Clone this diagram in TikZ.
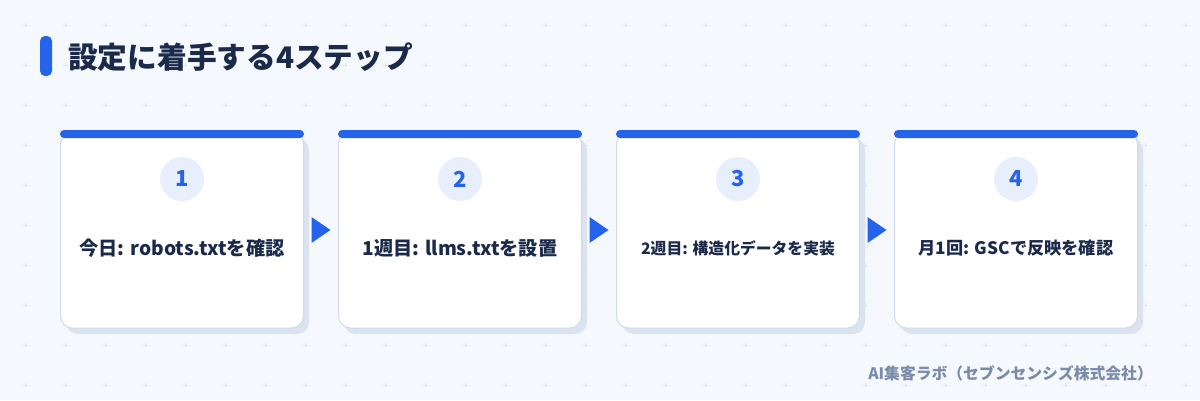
\documentclass[tikz,border=0pt]{standalone}
\usepackage{fontspec}
\setmainfont{Noto Sans CJK JP}
\usetikzlibrary{calc}
\definecolor{bgc}{HTML}{F5F8FC}
\definecolor{gridc}{HTML}{E0E7F1}
\definecolor{bluec}{HTML}{2563EB}
\definecolor{darkc}{HTML}{1B2A4A}
\definecolor{grayc}{HTML}{7B8BA8}
\definecolor{borderc}{HTML}{CFDBEA}
\definecolor{shadowc}{HTML}{DAE3EF}
\definecolor{circc}{HTML}{E7EFFC}
\tikzset{
  cardbox/.style={draw=borderc, line width=1pt, fill=white, rounded corners=12pt,
    minimum width=243pt, minimum height=196pt, inner sep=0pt},
  cardshadow/.style={fill=shadowc, rounded corners=12pt,
    minimum width=243pt, minimum height=196pt, inner sep=0pt},
  topbar/.style={fill=bluec, rounded corners=4pt, minimum width=244pt, minimum height=8pt, inner sep=0pt},
  numcirc/.style={circle, fill=circc, minimum size=44pt, inner sep=0pt,
    text=bluec, font=\fontsize{22pt}{24pt}\selectfont\bfseries},
  steplabel/.style={text=darkc, inner sep=0pt},
  arrowtri/.style={fill=bluec},
}
\begin{document}
\begin{tikzpicture}[x=1pt,y=-1pt]
\useasboundingbox (0,0) rectangle (1200,400);
\fill[bgc] (0,0) rectangle (1200,400);
\foreach \i in {0,...,29}{
  \foreach \j in {0,...,9}{
    \draw[gridc, line width=0.7pt] ({25+40*\i-2.5},{25+40*\j}) -- ++(5,0)
      ({25+40*\i},{25+40*\j-2.5}) -- ++(0,5);
  }
}
% title
\fill[bluec, rounded corners=5pt] (40,36) rectangle (52,76);
\node[anchor=west, text=darkc, font=\fontsize{29.7pt}{32pt}\selectfont\bfseries, inner sep=0pt] (title) at (68,57) {設定に着手する4ステップ};
% cards
\foreach \n/\cx/\lbl/\fs in {1/182/{今日: robots.txtを確認}/19.2, 2/460/{1週目: llms.txtを設置}/19.2, 3/738/{2週目: 構造化データを実装}/15.8, 4/1016/{月1回: GSCで反映を確認}/17.2}{
  \node[cardshadow] (s\n) at (\cx+5.5,236) {};
  \node[cardbox] (c\n) at (\cx,230) {};
  \node[topbar] (b\n) at (\cx,134) {};
  \node[numcirc] (n\n) at (\cx,179) {\n};
  \node[steplabel, font=\fontsize{\fs pt}{20pt}\selectfont\bfseries] (l\n) at (\cx,248) {\lbl};
}
% arrows
\foreach \a/\b in {1/2,2/3,3/4}{
  \coordinate (m\a) at ($(c\a.east)!0.5!(c\b.west)$);
  \fill[arrowtri] ($(m\a)+(-9.5,-13)$) -- ($(m\a)+(9.5,0)$) -- ($(m\a)+(-9.5,13)$) -- cycle;
}
% footer
\node[anchor=east, text=grayc, font=\fontsize{15.8pt}{17pt}\selectfont\bfseries, inner sep=0pt] (footer) at (1153,373) {AI集客ラボ（セブンセンシズ株式会社）};
\end{tikzpicture}
\end{document}
